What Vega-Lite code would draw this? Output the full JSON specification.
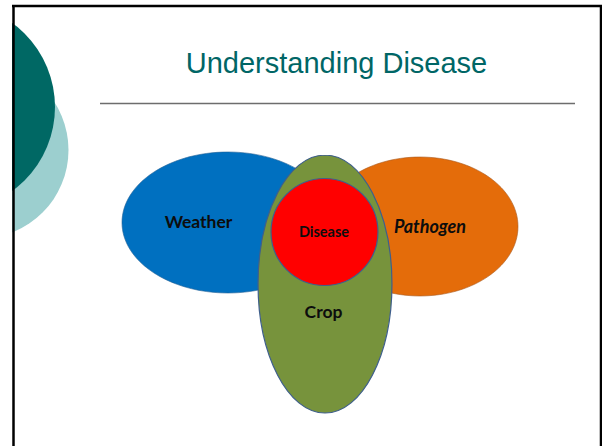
{
  "$schema": "https://vega.github.io/schema/vega-lite/v6.json",
  "width": 602,
  "height": 446,
  "padding": 0,
  "autosize": {"type": "none"},
  "background": "white",
  "config": {"view": {"stroke": null}},
  "datasets": {
    "deco": [
      {"name": "light", "x": -20, "y": 150},
      {"name": "dark", "x": -49, "y": 107}
    ],
    "mask": [{"x": 0, "x2": 12, "y": 0, "y2": 446}],
    "frame": [
      {"part": "top", "x": 12, "x2": 602, "y": 6, "y2": 6},
      {"part": "left", "x": 13.5, "x2": 13.5, "y": 5, "y2": 446},
      {"part": "right", "x": 601, "x2": 601, "y": 5, "y2": 446}
    ],
    "heading": [{"text": "Understanding Disease", "x": 336.5, "y": 73}],
    "divider": [{"x": 100, "x2": 575, "y": 103.5}],
    "sets": [
      {"set": "Weather", "x": 228, "y": 222.5},
      {"set": "Pathogen", "x": 420, "y": 226.5},
      {"set": "Crop", "x": 325, "y": 284},
      {"set": "Disease", "x": 324.5, "y": 232}
    ],
    "labels": [
      {"label": "Weather", "x": 198.5, "y": 227.5},
      {"label": "Disease", "x": 324, "y": 237},
      {"label": "Pathogen", "x": 430, "y": 232.5},
      {"label": "Crop", "x": 323.5, "y": 317.5}
    ]
  },
  "layer": [
    {
      "data": {"name": "deco"},
      "mark": {"type": "point", "shape": "circle", "filled": true, "opacity": 1, "strokeWidth": 0},
      "encoding": {
        "x": {"field": "x", "type": "quantitative", "scale": {"domain": [0, 602], "nice": false, "zero": false}, "axis": null},
        "y": {"field": "y", "type": "quantitative", "scale": {"domain": [0, 446], "nice": false, "zero": false, "reverse": true}, "axis": null},
        "color": {"field": "name", "type": "nominal", "scale": {"domain": ["light", "dark"], "range": ["#9ccfcf", "#006864"]}, "legend": null},
        "size": {"field": "name", "type": "nominal", "scale": {"domain": ["light", "dark"], "range": [31329, 43264]}, "legend": null},
        "order": {"field": "name", "sort": "descending"}
      }
    },
    {
      "data": {"name": "mask"},
      "mark": {"type": "rect", "fill": "white"},
      "encoding": {
        "x": {"field": "x", "type": "quantitative"},
        "x2": {"field": "x2"},
        "y": {"field": "y", "type": "quantitative"},
        "y2": {"field": "y2"}
      }
    },
    {
      "data": {"name": "frame"},
      "mark": {"type": "rule", "color": "black", "strokeWidth": 2.5},
      "encoding": {
        "x": {"field": "x", "type": "quantitative"},
        "x2": {"field": "x2"},
        "y": {"field": "y", "type": "quantitative"},
        "y2": {"field": "y2"}
      }
    },
    {
      "data": {"name": "heading"},
      "mark": {"type": "text", "font": "Liberation Sans", "fontSize": 29, "color": "#006666", "align": "center", "baseline": "alphabetic"},
      "encoding": {
        "x": {"field": "x", "type": "quantitative"},
        "y": {"field": "y", "type": "quantitative"},
        "text": {"field": "text"}
      }
    },
    {
      "data": {"name": "divider"},
      "mark": {"type": "rule", "color": "#6d6d6d", "strokeWidth": 1.5},
      "encoding": {
        "x": {"field": "x", "type": "quantitative"},
        "x2": {"field": "x2"},
        "y": {"field": "y", "type": "quantitative"}
      }
    },
    {
      "data": {"name": "sets"},
      "transform": [{"filter": "datum.set === 'Weather'"}],
      "mark": {"type": "point", "shape": "M-1,0A1,0.665 0 1,0 1,0A1,0.665 0 1,0 -1,0Z", "size": 44944, "fill": "#0070c0", "fillOpacity": 1, "opacity": 1, "stroke": "#1f5f95", "strokeWidth": 1, "strokeOpacity": 0.6},
      "encoding": {
        "x": {"field": "x", "type": "quantitative"},
        "y": {"field": "y", "type": "quantitative"}
      }
    },
    {
      "data": {"name": "sets"},
      "transform": [{"filter": "datum.set === 'Pathogen'"}],
      "mark": {"type": "point", "shape": "M-1,0A1,0.709 0 1,0 1,0A1,0.709 0 1,0 -1,0Z", "size": 38416, "fill": "#e46c0a", "fillOpacity": 1, "opacity": 1, "stroke": "#a85a20", "strokeWidth": 1, "strokeOpacity": 0.6},
      "encoding": {
        "x": {"field": "x", "type": "quantitative"},
        "y": {"field": "y", "type": "quantitative"}
      }
    },
    {
      "data": {"name": "sets"},
      "transform": [{"filter": "datum.set === 'Crop'"}],
      "mark": {"type": "point", "shape": "M0,-1A0.519,1 0 1,0 0,1A0.519,1 0 1,0 0,-1Z", "size": 66564, "fill": "#77933c", "fillOpacity": 1, "opacity": 1, "stroke": "#3f5f8c", "strokeWidth": 1.2},
      "encoding": {
        "x": {"field": "x", "type": "quantitative"},
        "y": {"field": "y", "type": "quantitative"}
      }
    },
    {
      "data": {"name": "sets"},
      "transform": [{"filter": "datum.set === 'Disease'"}],
      "mark": {"type": "point", "shape": "circle", "size": 11449, "fill": "#ff0000", "fillOpacity": 1, "opacity": 1, "stroke": "#3f5f8c", "strokeWidth": 1.2},
      "encoding": {
        "x": {"field": "x", "type": "quantitative"},
        "y": {"field": "y", "type": "quantitative"}
      }
    },
    {
      "data": {"name": "labels"},
      "transform": [{"filter": "datum.label === 'Weather' || datum.label === 'Crop'"}],
      "mark": {"type": "text", "font": "Lato", "fontWeight": "bold", "fontSize": 17.5, "color": "#0d0d0d", "align": "center", "baseline": "alphabetic"},
      "encoding": {
        "x": {"field": "x", "type": "quantitative"},
        "y": {"field": "y", "type": "quantitative"},
        "text": {"field": "label"}
      }
    },
    {
      "data": {"name": "labels"},
      "transform": [{"filter": "datum.label === 'Disease'"}],
      "mark": {"type": "text", "font": "Lato", "fontWeight": "bold", "fontSize": 14.5, "color": "#0d0d0d", "align": "center", "baseline": "alphabetic"},
      "encoding": {
        "x": {"field": "x", "type": "quantitative"},
        "y": {"field": "y", "type": "quantitative"},
        "text": {"field": "label"}
      }
    },
    {
      "data": {"name": "labels"},
      "transform": [{"filter": "datum.label === 'Pathogen'"}],
      "mark": {"type": "text", "font": "Lato", "fontWeight": "bold", "fontStyle": "italic", "fontSize": 18, "color": "#0d0d0d", "align": "center", "baseline": "alphabetic"},
      "encoding": {
        "x": {"field": "x", "type": "quantitative"},
        "y": {"field": "y", "type": "quantitative"},
        "text": {"field": "label"}
      }
    }
  ]
}
